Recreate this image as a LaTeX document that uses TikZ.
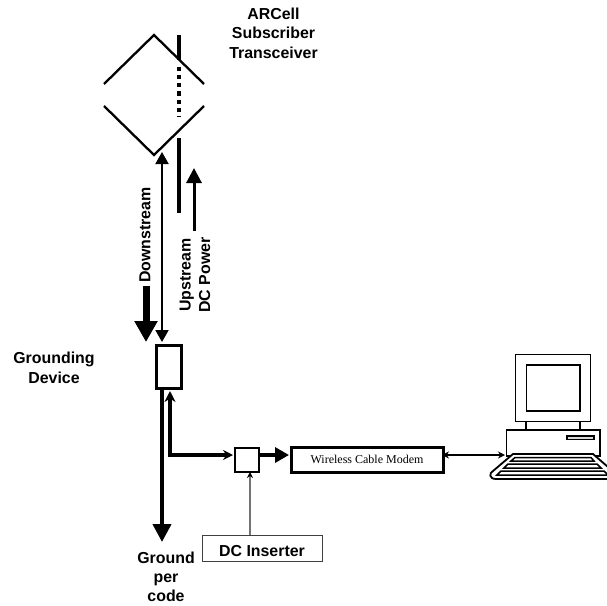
\documentclass[tikz,border=0pt]{standalone}
\usepackage{fontspec}
\setmainfont{Liberation Sans}
\newfontfamily\serifcap{Liberation Serif}
\usetikzlibrary{arrows.meta}
\tikzset{
 lab/.style={font=\fontsize{15.9}{19.6}\selectfont\bfseries,align=center,inner sep=0pt},
 box/.style={draw,fill=white,inner sep=0pt,anchor=north west},
 tip/.style={-{Triangle[length=#1,width=#1]}},
}
\begin{document}
\begin{tikzpicture}[x=1pt,y=-1pt,line join=miter]
\useasboundingbox (0,0) rectangle (607,605);
% antenna
\coordinate (dt) at (154,35);
\coordinate (dl) at (104,84);
\coordinate (dr) at (204,84);
\coordinate (bl) at (104,106);
\coordinate (bb) at (154,155);
\coordinate (br) at (204,106);
\draw[line width=2.3] (dl)--(dt)--(dr);
\draw[line width=2.3] (bl)--(bb)--(br);
\coordinate (f1) at (179,35);
\coordinate (f2) at (179,60);
\coordinate (f3) at (179,66.7);
\coordinate (f4) at (179,116.7);
\coordinate (f5) at (179,138);
\coordinate (f6) at (179,213);
\draw[line width=4] (f1)--(f2);
\draw[line width=4,dash pattern=on 4.3pt off 3.9pt] (f3)--(f4);
\draw[line width=4] (f5)--(f6);
% nodes
\node[box,line width=3,minimum width=25pt,minimum height=43pt] (gd) at (154.5,343.5) {};
\node[box,line width=2.2,minimum width=24pt,minimum height=24pt] (ins) at (234,447) {};
\node[box,line width=3,minimum width=152pt,minimum height=25.5pt] (modem) at (289.5,445.5) {\serifcap\fontsize{12}{13}\selectfont Wireless Cable Modem};
\node[box,line width=1.1,draw=black!75,minimum width=120pt,minimum height=26pt] (dc) at (202,535) {};
\node[font=\fontsize{15.9}{18}\selectfont\bfseries,inner sep=0pt] (dct) at (262,551) {DC Inserter};
\node[lab] (t1) at (273.5,33) {ARCell\\Subscriber\\Transceiver};
\node[lab] (t2) at (54,368) {Grounding\\Device};
\node[lab,font=\fontsize{15.9}{19}\selectfont\bfseries] (t3) at (166,577) {Ground\\per\\code};
\node[lab,rotate=90] (t4) at (145,235) {Downstream};
\node[lab,rotate=90,anchor=center] (t5) at (195,275) {Upstream\\DC Power};
% connectors
\coordinate (a1) at (162,152);
\coordinate (a2) at (162,342);
\draw[line width=2,{Triangle[length=12pt,width=13pt]}-{Triangle[length=12pt,width=13pt]}] (a1)--(a2);
\coordinate (u1) at (194,231);
\coordinate (u2) at (194,168);
\draw[line width=3,tip=15pt] (u1)--(u2);
\coordinate (d1) at (146,286);
\coordinate (d2) at (146,342);
\draw[line width=7,-{Triangle[length=21pt,width=22pt]}] (d1)--(d2);
\coordinate (g1) at (162,390);
\coordinate (g2) at (162,542);
\draw[line width=4,-{Triangle[length=18pt,width=18pt]}] (g1)--(g2);
\coordinate (e1) at (170,391);
\coordinate (e2) at (170,455);
\coordinate (e3) at (233,455);
\coordinate (e4) at (259,455);
\coordinate (e5) at (289,455);
\draw[line width=3.3,{Stealth[length=11pt,width=11pt]}-{Stealth[length=10pt,width=10pt]}] (e1)--(e2)--(e3);
\draw[line width=3.3,-{Triangle[length=14pt,width=15pt]}] (e4)--(e5);
\coordinate (c1) at (250,534.5);
\coordinate (c2) at (250,472);
\draw[line width=1.4,black!55,-{Stealth[length=6pt,width=6pt,black]}] (c1)--(c2);
\coordinate (m0) at (442,455);
\coordinate (m1) at (505,455);
\draw[line width=1.5,{Stealth[length=7pt,width=7pt]}-{Stealth[length=7pt,width=7pt]}] (m0)--(m1);
% computer
\begin{scope}[line width=1.8]
\draw (526,421)--(526,431) (580,421)--(580,431);
\draw (515.5,354.5) rectangle (590.5,421.5);
\draw (526.5,365) rectangle (580,411);
\draw (506.5,430) rectangle (600,456);
\draw[line width=1.3,fill=black!15] (567,436) rectangle (594,439.5);
\draw[fill=white] (513,454)--(593,454)--(608,467)--(608,479)--(496,479) .. controls (489,479) and (489,473) .. (493,471)--cycle;
\draw[fill=white,line width=1.5] (515,457.5)--(591,457.5)--(594,461)--(511,461)--cycle;
\draw[fill=white,line width=1.5] (508,464)--(597,464)--(601,468)--(504,468)--cycle;
\draw[fill=white,line width=1.5] (501,471)--(604,471)--(608,475)--(497,475)--cycle;
\end{scope}
\end{tikzpicture}
\end{document}
